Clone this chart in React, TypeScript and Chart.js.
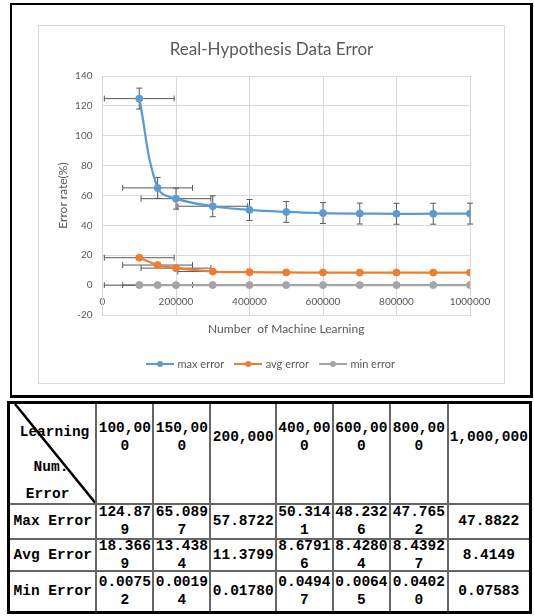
import React, { useEffect, useRef } from 'react';
import { Chart, registerables } from 'chart.js';

Chart.register(...registerables);

// ---- chart data ----
const learningCounts = [100000, 150000, 200000, 300000, 400000, 500000, 600000, 700000, 800000, 900000, 1000000];
const maxError = [124.879, 65.0897, 57.8722, 52.8, 50.3141, 49.0, 48.2326, 47.9, 47.7652, 47.8, 47.8822];
const avgError = [18.3669, 13.4384, 11.3799, 9.1, 8.67916, 8.5, 8.42804, 8.43, 8.43927, 8.42, 8.4149];
const minError = [0.00752, 0.00194, 0.0178, 0.03, 0.04947, 0.03, 0.00645, 0.02, 0.0402, 0.05, 0.07583];
const maxYErr = [7, 7, 7, 7, 7, 7, 7, 7, 7, 7, 7];
const seriesXErr = [95000, 95000, 95000, 95000, 0, 0, 0, 0, 0, 0, 0];
const seriesLabels = ['max error', 'avg error', 'min error'];
const seriesColors = ['#5b9bd5', '#ed7d31', '#a5a5a5'];

// ---- table data ----
const tableHeaders = ['100,000', '150,000', '200,000', '400,000', '600,000', '800,000', '1,000,000'];
const tableRowLabels = ['Max Error', 'Avg Error', 'Min Error'];
const tableMax = ['124.879', '65.0897', '57.8722', '50.3141', '48.2326', '47.7652', '47.8822'];
const tableAvg = ['18.3669', '13.4384', '11.3799', '8.67916', '8.42804', '8.43927', '8.4149'];
const tableMin = ['0.00752', '0.00194', '0.01780', '0.04947', '0.00645', '0.04020', '0.07583'];

const FONT = "Lato, 'Liberation Sans', sans-serif";
const TXT = '#595959';

function swatch(color: string) {
  const c = document.createElement('canvas');
  c.width = 28;
  c.height = 8;
  const g = c.getContext('2d')!;
  g.strokeStyle = color;
  g.lineWidth = 2;
  g.beginPath();
  g.moveTo(0, 4);
  g.lineTo(28, 4);
  g.stroke();
  g.fillStyle = color;
  g.beginPath();
  g.arc(14, 4, 3, 0, Math.PI * 2);
  g.fill();
  return c;
}

const errorBars = {
  id: 'errorBars',
  beforeDatasetsDraw(chart: any) {
    const { ctx, scales } = chart;
    const xs = scales.x;
    const ys = scales.y;
    ctx.save();
    ctx.strokeStyle = '#595959';
    ctx.lineWidth = 1;
    chart.data.datasets.forEach((ds: any) => {
      ds.data.forEach((pt: any, j: number) => {
        const px = xs.getPixelForValue(pt.x);
        const py = ys.getPixelForValue(pt.y);
        const ex = ds.xErr ? ds.xErr[j] : 0;
        const ey = ds.yErr ? ds.yErr[j] : 0;
        ctx.beginPath();
        if (ex) {
          const x0 = xs.getPixelForValue(pt.x - ex);
          const x1 = xs.getPixelForValue(pt.x + ex);
          ctx.moveTo(x0, py); ctx.lineTo(x1, py);
          ctx.moveTo(x0, py - 3); ctx.lineTo(x0, py + 3);
          ctx.moveTo(x1, py - 3); ctx.lineTo(x1, py + 3);
        }
        if (ey) {
          const y0 = ys.getPixelForValue(pt.y - ey);
          const y1 = ys.getPixelForValue(pt.y + ey);
          ctx.moveTo(px, y0); ctx.lineTo(px, y1);
          ctx.moveTo(px - 3, y0); ctx.lineTo(px + 3, y0);
          ctx.moveTo(px - 3, y1); ctx.lineTo(px + 3, y1);
        }
        ctx.stroke();
      });
    });
    ctx.restore();
  },
};

function ErrorChart() {
  const ref = useRef<HTMLCanvasElement>(null);
  useEffect(() => {
    const values = [maxError, avgError, minError];
    const swatches = seriesColors.map(swatch);
    const chart = new Chart(ref.current!, {
      type: 'line',
      data: {
        datasets: values.map((vals, i) => ({
          label: seriesLabels[i],
          data: learningCounts.map((x, k) => ({ x, y: vals[k] })),
          borderColor: seriesColors[i],
          backgroundColor: seriesColors[i],
          borderWidth: 2.25,
          pointRadius: 3.5,
          pointBorderWidth: 1,
          tension: 0.4,
          xErr: seriesXErr,
          yErr: i === 0 ? maxYErr : undefined,
        })) as any,
      },
      options: {
        animation: false,
        responsive: false,
        layout: { padding: { left: 0, right: 0, top: 0, bottom: 3.5 } },
        plugins: {
          title: {
            display: true,
            text: 'Real-Hypothesis Data Error',
            color: TXT,
            font: { family: FONT, size: 17, weight: 'normal' },
            padding: { top: 13.2, bottom: 16.4 },
          },
          legend: {
            position: 'bottom',
            labels: {
              usePointStyle: true,
              pointStyleWidth: 24,
              padding: 12,
              color: TXT,
              font: { family: FONT, size: 11 },
              generateLabels: (c: any) =>
                (Chart.defaults.plugins.legend.labels as any)
                  .generateLabels(c)
                  .map((l: any, i: number) => ({ ...l, pointStyle: swatches[i] })),
            },
          },
          tooltip: { enabled: false },
        },
        scales: {
          x: {
            type: 'linear',
            min: 0,
            max: 1000000,
            ticks: {
              stepSize: 200000,
              callback: (v: any) => String(v),
              color: TXT,
              font: { family: FONT, size: 10 },
              mirror: true,
              padding: 7,
              maxRotation: 0,
              autoSkip: false,
            },
            grid: { color: '#d9d9d9', drawTicks: false },
            border: { color: '#d9d9d9' },
            title: {
              display: true,
              text: 'Number  of Machine Learning',
              color: TXT,
              font: { family: FONT, size: 12 },
              padding: { top: 0, bottom: 10.3 },
            },
            afterFit: (s: any) => {
              s.height = 31.5;
              s.paddingRight = 34;
            },
          },
          y: {
            min: -20,
            max: 140,
            ticks: { stepSize: 20, color: TXT, font: { family: FONT, size: 10 }, padding: 10 },
            grid: { color: '#d9d9d9', drawTicks: false },
            border: { color: '#d9d9d9' },
            title: {
              display: true,
              text: 'Error rate(%)',
              color: TXT,
              font: { family: FONT, size: 12 },
              padding: { top: 16.5, bottom: 0 },
            },
            afterFit: (s: any) => {
              s.width = 63.5;
            },
          },
        },
      } as any,
      plugins: [errorBars],
    });
    return () => chart.destroy();
  }, []);
  return <canvas ref={ref} width={465} height={357} style={{ display: 'block', width: 465, height: 357 }} />;
}

const cellBase: React.CSSProperties = {
  background: '#fff',
  position: 'relative',
  display: 'flex',
  alignItems: 'center',
  justifyContent: 'center',
  textAlign: 'center',
  wordBreak: 'break-all',
  overflow: 'visible',
};

const abs: React.CSSProperties = { position: 'absolute', transform: 'translate(-50%,-50%)', whiteSpace: 'nowrap' };

function DataTable() {
  const rows = [tableMax, tableAvg, tableMin];
  return (
    <div
      style={{
        position: 'absolute',
        left: 7,
        top: 401,
        width: 525,
        height: 213,
        boxSizing: 'border-box',
        border: '3px solid #000',
        background: '#666',
        display: 'grid',
        gridTemplateColumns: '85.4px 54.9px 55.2px 63.5px 54.8px 55.3px 55.6px 80.3px',
        gridTemplateRows: '99px 32.5px 30px 39.5px',
        columnGap: 2,
        rowGap: 2,
        fontFamily: "'Liberation Mono', 'DejaVu Sans Mono', monospace",
        fontSize: 14.5,
        fontWeight: 'bold',
        lineHeight: '18px',
        color: '#000',
      }}
    >
      <div style={{ ...cellBase, display: 'block' }}>
        <svg width="100%" height="100%" style={{ position: 'absolute', left: 0, top: 0 }}>
          <line x1="5" y1="0" x2="100%" y2="100%" stroke="#000" strokeWidth="2.5" />
        </svg>
        <span style={{ ...abs, left: 44.5, top: 28 }}>Learning</span>
        <span style={{ ...abs, left: 41, top: 62.5 }}>Num.</span>
        <span style={{ ...abs, left: 37.6, top: 90 }}>Error</span>
      </div>
      {tableHeaders.map((h) => (
        <div key={h} style={{ ...cellBase, alignItems: 'flex-start' }}>
          <div style={{ marginTop: 15, height: 36, width: '100%', display: 'flex', alignItems: 'center', justifyContent: 'center' }}>
            <span style={{ wordBreak: 'break-all', width: '100%' }}>{h}</span>
          </div>
        </div>
      ))}
      {rows.map((r, ri) => (
        <React.Fragment key={ri}>
          <div style={{ ...cellBase, whiteSpace: 'nowrap' }}>{tableRowLabels[ri]}</div>
          {r.map((v, ci) => (
            <div key={ci} style={cellBase}>
              <span style={{ wordBreak: 'break-all', width: '100%' }}>{v}</span>
            </div>
          ))}
        </React.Fragment>
      ))}
    </div>
  );
}

export default function App() {
  return (
    <div style={{ position: 'fixed', left: 0, top: 0, width: 534, height: 616, background: '#fff', overflow: 'hidden' }}>
      <div
        style={{
          position: 'absolute',
          left: 10,
          top: 3,
          width: 523,
          height: 395,
          boxSizing: 'border-box',
          borderTop: '2px solid #000',
          borderLeft: '2px solid #000',
          borderRight: '3px solid #000',
          borderBottom: '3px solid #000',
        }}
      />
      <div
        style={{
          position: 'absolute',
          left: 38,
          top: 25,
          width: 467,
          height: 359,
          boxSizing: 'border-box',
          border: '1px solid #d9d9d9',
        }}
      >
        <ErrorChart />
      </div>
      <DataTable />
    </div>
  );
}
